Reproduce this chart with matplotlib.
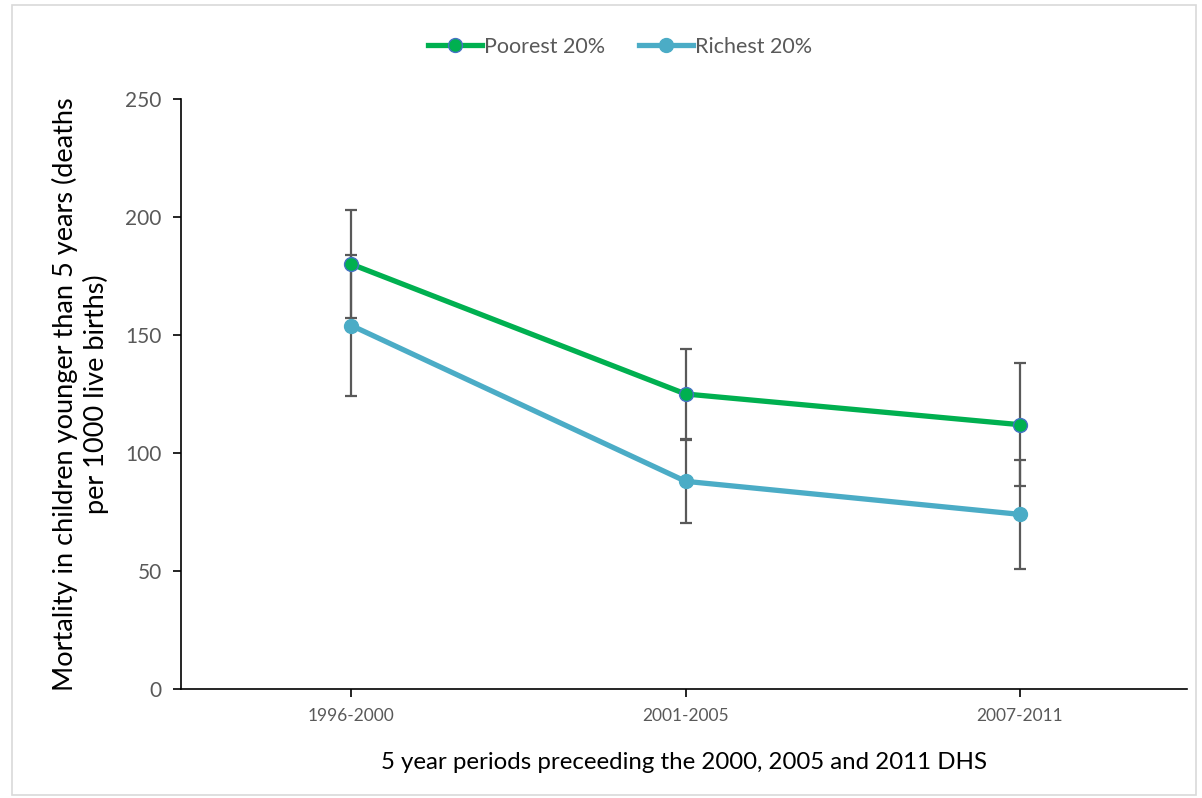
import matplotlib
matplotlib.use("Agg")
import matplotlib.pyplot as plt
from matplotlib.patches import Rectangle

periods = ["1996-2000", "2001-2005", "2007-2011"]
poorest = [180, 125, 112]
poorest_err = [23, 19, 26]
richest = [154, 88, 74]
richest_err = [30, 17.5, 23]
yticks = [0, 50, 100, 150, 200, 250]

plt.rcParams['font.family'] = ['Lato', 'DejaVu Sans']

fig = plt.figure(figsize=(12.02, 7.98), dpi=100)
ax = fig.add_axes([181/1202, 1-689/798, (1187-181)/1202, (689-99)/798])

x = list(range(len(periods)))
green = "#00B050"
blue = "#4BACC6"
errc = "#595959"

ax.errorbar(x, poorest, yerr=poorest_err, fmt='none', ecolor=errc, elinewidth=1.6, capsize=4.5, capthick=1.6, zorder=2)
ax.errorbar(x, richest, yerr=richest_err, fmt='none', ecolor=errc, elinewidth=1.6, capsize=4.5, capthick=1.6, zorder=2)
ax.plot(x, poorest, color=green, lw=3.8, marker='o', markersize=10, markerfacecolor=green,
        markeredgecolor="#4472C4", markeredgewidth=1.0, label="Poorest 20%", zorder=3)
ax.plot(x, richest, color=blue, lw=3.8, marker='o', markersize=10, markerfacecolor=blue,
        markeredgecolor=blue, label="Richest 20%", zorder=3)

ax.set_xlim(-0.51, 2.5)
ax.set_ylim(0, 250)
ax.set_yticks(yticks)
ax.set_xticks(x)
ax.set_xticklabels(periods)
ax.spines['top'].set_visible(False)
ax.spines['right'].set_visible(False)
for s in ['left', 'bottom']:
    ax.spines[s].set_color('black')
    ax.spines[s].set_linewidth(1.2)
ax.tick_params(axis='y', direction='out', length=6, width=1.2, colors='black', labelcolor='#595959', labelsize=15, pad=8)
ax.tick_params(axis='x', direction='out', length=6, width=1.2, colors='black', labelcolor='#595959', labelsize=12.5, pad=8)

ax.set_ylabel("Mortality in children younger than 5 years (deaths\nper 1000 live births)", fontsize=19.5, color='black', labelpad=12)
ax.set_xlabel("5 year periods preceeding the 2000, 2005 and 2011 DHS", fontsize=17.3, color='black', labelpad=20)

leg = fig.legend(loc='center', bbox_to_anchor=(0.516, 1-47/798), ncol=2, frameon=False, fontsize=15.5,
                 handlelength=2.5, handletextpad=0.1, columnspacing=1.6, labelcolor='#595959')

fig.patches.append(Rectangle((12/1202, 3/798), (1196-12)/1202, (793-3)/798, transform=fig.transFigure,
                             fill=False, edgecolor='#D9D9D9', linewidth=1.2))

fig.savefig("out.png", dpi=100)
